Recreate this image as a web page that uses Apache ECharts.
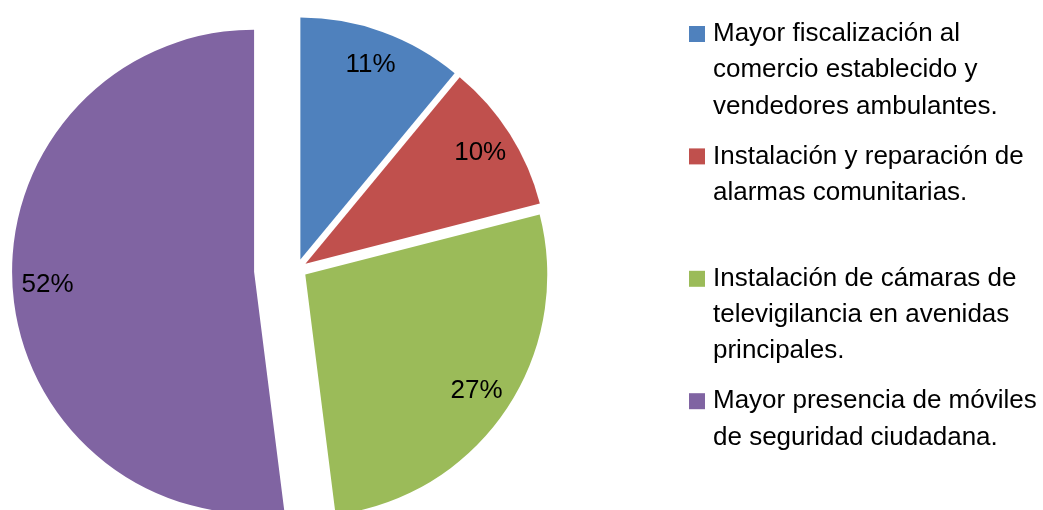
<!DOCTYPE html>
<html>
<head>
<meta charset="utf-8">
<script src="https://cdn.jsdelivr.net/npm/echarts@6/dist/echarts.min.js"></script>
<style>
html, body { margin: 0; padding: 0; background: #fff; }
#chart { width: 1043px; height: 510px; }
</style>
</head>
<body>
<div id="chart"></div>
<script>
var categories = [
    "Mayor fiscalización al\ncomercio establecido y\nvendedores ambulantes.",
    "Instalación y reparación de\nalarmas comunitarias.",
    "Instalación de cámaras de\ntelevigilancia en avenidas\nprincipales.",
    "Mayor presencia de móviles\nde seguridad ciudadana."
];
var values = [11, 10, 27, 52];
var colors = ["#4F81BD", "#C0504D", "#9BBB59", "#8064A2"];
// cuanto se separa cada porcion del centro (la morada va mucho mas afuera)
var explode = [10, 10, 10, 43];

var font = "'Liberation Sans', Arial, sans-serif";
var center = [297, 269];
var R = 242;

var chart = echarts.init(document.getElementById('chart'));

// una serie por cada distancia de separacion, y otra encima solo para las etiquetas
function buildSeries(offset, isLabel) {
    var data = [];
    for (var i = 0; i < values.length; i++) {
        var mine = explode[i] == offset;
        data.push({
            name: categories[i],
            value: values[i],
            selected: mine,
            itemStyle: { color: (mine && !isLabel) ? colors[i] : 'rgba(0,0,0,0)' },
            label: { show: mine && isLabel }
        });
    }
    return {
        type: 'pie',
        center: center,
        radius: isLabel ? [166, R] : [0, R],
        startAngle: 90,
        clockwise: true,
        selectedMode: 'multiple',
        selectedOffset: offset,
        silent: true,
        avoidLabelOverlap: false,
        itemStyle: { borderWidth: 0 },
        select: { itemStyle: { borderWidth: 0 } },
        emphasis: { disabled: true },
        label: {
            position: 'inside',
            formatter: '{c}%',
            color: '#000',
            fontFamily: font,
            fontSize: 26
        },
        labelLine: { show: false },
        data: data
    };
}

var offsets = [];
explode.forEach(function (o) { if (offsets.indexOf(o) < 0) offsets.push(o); });

var series = [];
offsets.forEach(function (o) { series.push(buildSeries(o, false)); });
offsets.forEach(function (o) { series.push(buildSeries(o, true)); });

var option = {
    animation: false,
    backgroundColor: '#fff',
    legend: {
        orient: 'vertical',
        left: 689,
        top: 16,
        padding: 0,
        itemWidth: 19,
        itemHeight: 108.6,
        itemGap: 13.8,
        selectedMode: false,
        icon: 'path://M0,0M19,108.6M0,10h16v16h-16z',
        itemStyle: { borderWidth: 0 },
        data: categories.map(function (c, i) {
            return { name: c, itemStyle: { color: colors[i] } };
        }),
        formatter: function (name) {
            // excel deja el mismo alto para cada entrada
            return name.split('\n').length < 3 ? name + '\n ' : name;
        },
        textStyle: {
            fontFamily: font,
            fontSize: 26,
            lineHeight: 36.2,
            color: '#000'
        }
    },
    series: series
};

chart.setOption(option);
</script>
</body>
</html>
